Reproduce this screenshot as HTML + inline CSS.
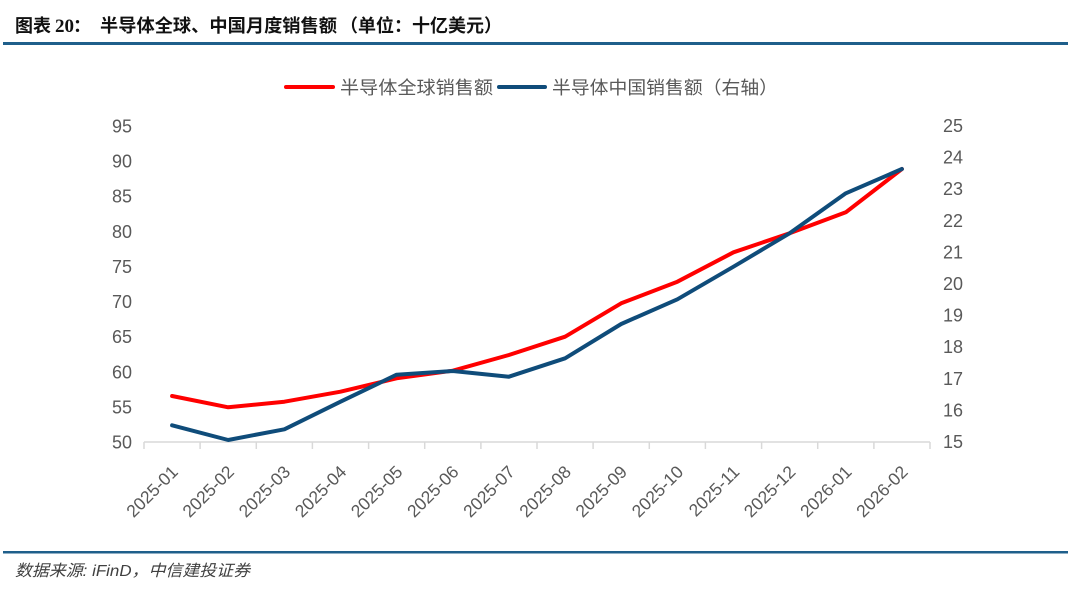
<!DOCTYPE html>
<html>
<head>
<meta charset="utf-8">
<style>
  html, body { margin: 0; padding: 0; background: #ffffff; }
  body { width: 1080px; height: 590px; overflow: hidden; }
  svg { display: block; }
</style>
</head>
<body>
<svg width="1080" height="590" viewBox="0 0 1080 590" xmlns="http://www.w3.org/2000/svg">
  <rect x="0" y="0" width="1080" height="590" fill="#ffffff"/>

  <!-- Title -->
  <text x="15" y="32" font-family="'Liberation Sans','Noto Sans CJK SC',sans-serif" font-size="18" font-weight="bold" fill="#111111">图表</text>
  <text x="55" y="32" font-family="'Liberation Serif',serif" font-size="19" font-weight="bold" fill="#111111">20</text>
  <text x="73" y="32" font-family="'Liberation Sans','Noto Sans CJK SC',sans-serif" font-size="18" font-weight="bold" fill="#111111">：</text>
  <text x="100" y="32" font-family="'Liberation Sans','Noto Sans CJK SC',sans-serif" font-size="18" font-weight="bold" fill="#111111" textLength="237" lengthAdjust="spacingAndGlyphs">半导体全球、中国月度销售额</text>
  <text x="340" y="32" font-family="'Liberation Sans','Noto Sans CJK SC',sans-serif" font-size="18" font-weight="bold" fill="#111111" textLength="162" lengthAdjust="spacingAndGlyphs">（单位：十亿美元）</text>
  <rect x="3" y="42" width="1065" height="3" fill="#1F5F8B"/>

  <!-- Legend -->
  <line x1="286" y1="87" x2="333" y2="87" stroke="#FF0000" stroke-width="4" stroke-linecap="round"/>
  <text x="340" y="94" font-family="'Liberation Sans','Noto Sans CJK SC',sans-serif" font-size="18" fill="#595959" textLength="153" lengthAdjust="spacingAndGlyphs">半导体全球销售额</text>
  <line x1="499" y1="87" x2="545" y2="87" stroke="#0F4C7A" stroke-width="4" stroke-linecap="round"/>
  <text x="552" y="94" font-family="'Liberation Sans','Noto Sans CJK SC',sans-serif" font-size="18" fill="#595959" textLength="226" lengthAdjust="spacingAndGlyphs">半导体中国销售额（右轴）</text>

  <!-- Left Y axis labels -->
  <g font-family="'Liberation Sans',sans-serif" font-size="18" fill="#595959" text-anchor="end">
    <text x="132" y="132.5">95</text>
    <text x="132" y="167.6">90</text>
    <text x="132" y="202.7">85</text>
    <text x="132" y="237.8">80</text>
    <text x="132" y="272.9">75</text>
    <text x="132" y="308.1">70</text>
    <text x="132" y="343.2">65</text>
    <text x="132" y="378.3">60</text>
    <text x="132" y="413.4">55</text>
    <text x="132" y="448.5">50</text>
  </g>

  <!-- Right Y axis labels -->
  <g font-family="'Liberation Sans',sans-serif" font-size="18" fill="#595959" text-anchor="start">
    <text x="943" y="132">25</text>
    <text x="943" y="163.6">24</text>
    <text x="943" y="195.2">23</text>
    <text x="943" y="226.8">22</text>
    <text x="943" y="258.4">21</text>
    <text x="943" y="290">20</text>
    <text x="943" y="321.6">19</text>
    <text x="943" y="353.2">18</text>
    <text x="943" y="384.8">17</text>
    <text x="943" y="416.4">16</text>
    <text x="943" y="448">15</text>
  </g>

  <!-- X axis -->
  <line x1="144" y1="442" x2="930" y2="442" stroke="#D9D9D9" stroke-width="1.5"/>
  <g stroke="#D9D9D9" stroke-width="1.5">
    <line x1="144" y1="442" x2="144" y2="449"/>
    <line x1="200.1" y1="442" x2="200.1" y2="449"/>
    <line x1="256.3" y1="442" x2="256.3" y2="449"/>
    <line x1="312.4" y1="442" x2="312.4" y2="449"/>
    <line x1="368.6" y1="442" x2="368.6" y2="449"/>
    <line x1="424.7" y1="442" x2="424.7" y2="449"/>
    <line x1="480.9" y1="442" x2="480.9" y2="449"/>
    <line x1="537" y1="442" x2="537" y2="449"/>
    <line x1="593.1" y1="442" x2="593.1" y2="449"/>
    <line x1="649.3" y1="442" x2="649.3" y2="449"/>
    <line x1="705.4" y1="442" x2="705.4" y2="449"/>
    <line x1="761.6" y1="442" x2="761.6" y2="449"/>
    <line x1="817.7" y1="442" x2="817.7" y2="449"/>
    <line x1="873.9" y1="442" x2="873.9" y2="449"/>
    <line x1="930" y1="442" x2="930" y2="449"/>
  </g>

  <!-- X labels rotated -->
  <g font-family="'Liberation Sans',sans-serif" font-size="17.5" fill="#595959" text-anchor="end">
    <text transform="translate(179,473) rotate(-45)">2025-01</text>
    <text transform="translate(235.2,473) rotate(-45)">2025-02</text>
    <text transform="translate(291.4,473) rotate(-45)">2025-03</text>
    <text transform="translate(347.5,473) rotate(-45)">2025-04</text>
    <text transform="translate(403.6,473) rotate(-45)">2025-05</text>
    <text transform="translate(459.8,473) rotate(-45)">2025-06</text>
    <text transform="translate(515.9,473) rotate(-45)">2025-07</text>
    <text transform="translate(572.1,473) rotate(-45)">2025-08</text>
    <text transform="translate(628.2,473) rotate(-45)">2025-09</text>
    <text transform="translate(684.4,473) rotate(-45)">2025-10</text>
    <text transform="translate(740.5,473) rotate(-45)">2025-11</text>
    <text transform="translate(796.6,473) rotate(-45)">2025-12</text>
    <text transform="translate(852.8,473) rotate(-45)">2026-01</text>
    <text transform="translate(908.9,473) rotate(-45)">2026-02</text>
  </g>

  <!-- Series: global (red, left axis) -->
  <polyline fill="none" stroke="#FF0000" stroke-width="4" stroke-linejoin="round" stroke-linecap="round"
    points="172.1,396 228.2,407.3 284.4,401.7 340.5,391.7 396.6,378.3 452.8,370.7 508.9,355 565.1,336.7 621.2,303.3 677.4,281.7 733.5,252.3 789.6,233.3 845.8,212.3 901.9,169"/>

  <!-- Series: China (blue, right axis) -->
  <polyline fill="none" stroke="#0F4C7A" stroke-width="4" stroke-linejoin="round" stroke-linecap="round"
    points="172.1,425.3 228.2,440 284.4,429.3 340.5,401.7 396.6,374.7 452.8,371 508.9,376.7 565.1,358.3 621.2,324 677.4,299.3 733.5,266.7 789.6,233.3 845.8,193.3 901.9,169"/>

  <!-- Footer -->
  <rect x="3" y="551" width="1065" height="2.5" fill="#1F5F8B"/>
  <text x="15" y="576" font-family="'Liberation Sans','Noto Sans CJK SC',sans-serif" font-size="16" font-style="italic" fill="#404040" textLength="235" lengthAdjust="spacingAndGlyphs">数据来源: iFinD，中信建投证券</text>
</svg>
</body>
</html>
